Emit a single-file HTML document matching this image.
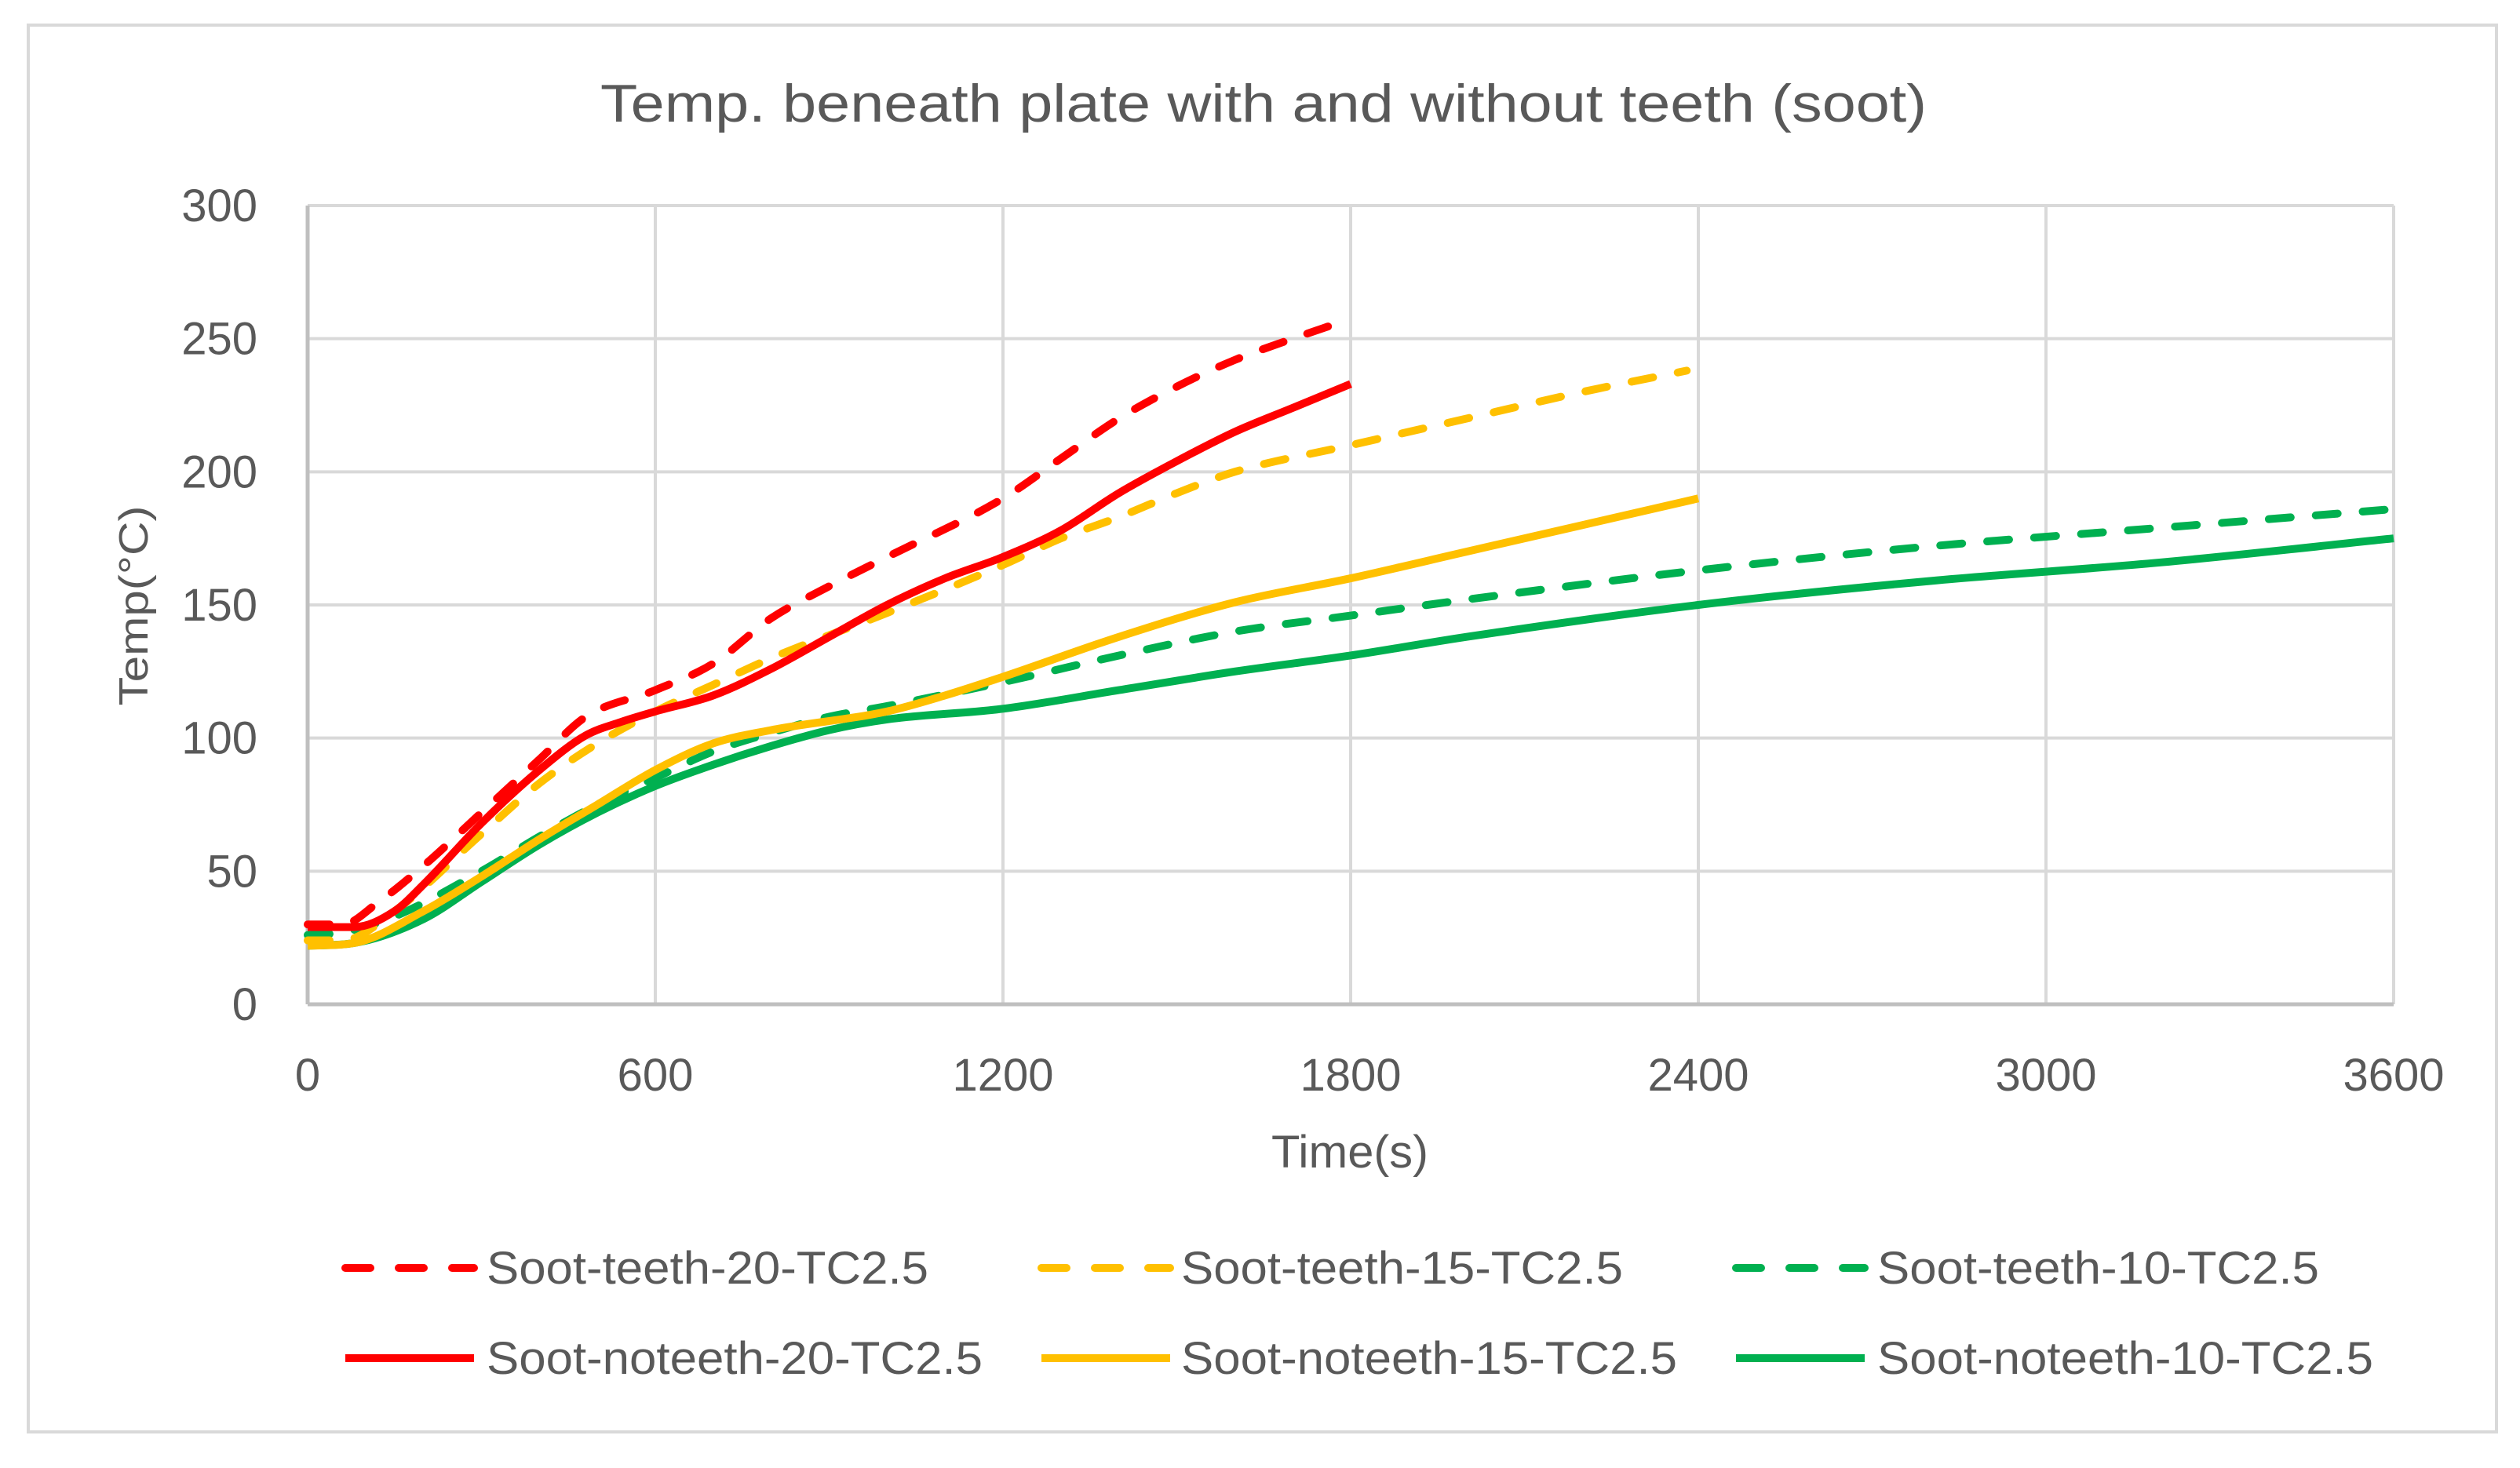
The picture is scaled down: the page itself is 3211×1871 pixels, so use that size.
<!DOCTYPE html>
<html><head><meta charset="utf-8"><style>
html,body{margin:0;padding:0;background:#fff;}
svg text{font-family:"Liberation Sans",sans-serif;fill:#595959;}
</style></head><body>
<svg id="chart" width="3211" height="1866" viewBox="0 0 3211 1866" xmlns="http://www.w3.org/2000/svg">
<rect x="0" y="0" width="3211" height="1866" fill="#fff"/>
<rect x="36" y="32" width="3145" height="1793" fill="none" stroke="#d9d9d9" stroke-width="4"/>
<text x="1610" y="155" font-size="68" text-anchor="middle" textLength="1690" lengthAdjust="spacingAndGlyphs">Temp. beneath plate with and without teeth (soot)</text>
<g id="grid"></g>
<g id="axes"></g>
<g id="series"></g>
<text x="1720" y="1488" font-size="58" text-anchor="middle" textLength="200" lengthAdjust="spacingAndGlyphs">Time(s)</text>
<text transform="translate(188,772) rotate(-90)" font-size="52" text-anchor="middle" textLength="255" lengthAdjust="spacingAndGlyphs">Temp(°C)</text>
<g id="legend"></g>
</svg>
<script>
const xTicks = [0, 600, 1200, 1800, 2400, 3000, 3600];
const yTicks = [0, 50, 100, 150, 200, 250, 300];
const seriesNames = ["Soot-teeth-20-TC2.5","Soot-teeth-15-TC2.5","Soot-teeth-10-TC2.5","Soot-noteeth-20-TC2.5","Soot-noteeth-15-TC2.5","Soot-noteeth-10-TC2.5"];
const teeth20T = [0,60,120,200,300,400,480,600,700,800,900,1000,1200,1300,1400,1500,1600,1700,1780];
const teeth20V = [30,30,38,52,72,92,108,118,128,145,157,168,190,205,220,232,242,250,256];
const noteeth20T = [0,80,150,200,300,400,480,540,600,700,800,900,1000,1100,1200,1300,1400,1500,1600,1700,1800];
const noteeth20V = [29,29,35,45,68,88,101,106,110,116,126,138,150,160,168,178,192,204,215,224,233];
const teeth15T = [0,60,150,300,400,500,600,700,800,1000,1200,1300,1400,1500,1600,1800,2000,2200,2380];
const teeth15V = [24,24,35,64,83,98,110,120,130,147,165,175,183,192,200,210,220,230,238];
const noteeth15T = [0,80,200,300,400,500,600,700,800,1000,1100,1200,1400,1600,1800,2000,2200,2400];
const noteeth15V = [22,23,35,48,62,75,88,98,103,110,116,123,138,151,160,170,180,190];
const teeth10T = [0,60,150,300,400,500,600,700,800,900,1000,1200,1400,1600,1800,2000,2400,2800,3200,3600];
const teeth10V = [26,27,33,50,63,75,85,95,102,108,112,121,131,140,146,152,163,172,179,186];
const noteeth10T = [0,80,200,300,400,500,600,700,800,900,1000,1200,1400,1600,1800,2000,2400,2800,3200,3600];
const noteeth10V = [22,23,32,46,60,72,82,90,97,103,107,111,118,125,131,138,150,159,166,175];

const NS = "http://www.w3.org/2000/svg";
const L = 392, R = 3050, T = 262, B = 1280;
const xs = v => L + (v - 0) / 3600 * (R - L);
const ys = v => B - v / 300 * (B - T);
function mk(tag, attrs, parent){const e=document.createElementNS(NS,tag);for(const k in attrs)e.setAttribute(k,attrs[k]);parent.appendChild(e);return e;}
const grid=document.getElementById('grid'), axes=document.getElementById('axes'), ser=document.getElementById('series'), leg=document.getElementById('legend');
yTicks.forEach(v=>{
  if(v>0){const g=mk('line',{x1:L,x2:R,y1:ys(v),y2:ys(v),stroke:'#d9d9d9','stroke-width':4},grid);
  
  }
  const t=mk('text',{x:328,y:ys(v)+20,'font-size':58,'text-anchor':'end'},axes);t.textContent=v;
  
  
});
xTicks.forEach(v=>{
  if(v>0){const g=mk('line',{x1:xs(v),x2:xs(v),y1:T,y2:B,stroke:'#d9d9d9','stroke-width':4},grid);
  
  }
  const t=mk('text',{x:xs(v),y:1390,'font-size':58,'text-anchor':'middle'},axes);t.textContent=v;
  
  
});
const ax1=mk('line',{x1:L,x2:R,y1:B,y2:B,stroke:'#bfbfbf','stroke-width':5},axes);


const ax2=mk('line',{x1:L,x2:L,y1:T,y2:B,stroke:'#bfbfbf','stroke-width':5},axes);



function smooth(pts){
  const n=pts.length, d=[], m=[];
  for(let i=0;i<n-1;i++)d.push((pts[i+1][1]-pts[i][1])/(pts[i+1][0]-pts[i][0]));
  m[0]=d[0];m[n-1]=d[n-2];
  for(let i=1;i<n-1;i++){m[i]=(d[i-1]*d[i]<=0)?0:(d[i-1]+d[i])/2;}
  for(let i=0;i<n-1;i++){
    if(d[i]===0){m[i]=0;m[i+1]=0;continue;}
    const a=m[i]/d[i],b=m[i+1]/d[i],s=a*a+b*b;
    if(s>9){const t=3/Math.sqrt(s);m[i]=t*a*d[i];m[i+1]=t*b*d[i];}
  }
  let p='M'+pts[0][0]+','+pts[0][1];
  for(let i=0;i<n-1;i++){
    const h=(pts[i+1][0]-pts[i][0])/3;
    p+=' C'+(pts[i][0]+h)+','+(pts[i][1]+m[i]*h)+' '+(pts[i+1][0]-h)+','+(pts[i+1][1]-m[i+1]*h)+' '+pts[i+1][0]+','+pts[i+1][1];
  }
  return p;
}
const defs=[
 [noteeth10T,noteeth10V,'#00b050',false,'series-soot-noteeth-10'],
 [teeth10T,teeth10V,'#00b050',true,'series-soot-teeth-10'],
 [noteeth15T,noteeth15V,'#ffc000',false,'series-soot-noteeth-15'],
 [teeth15T,teeth15V,'#ffc000',true,'series-soot-teeth-15'],
 [noteeth20T,noteeth20V,'#ff0000',false,'series-soot-noteeth-20'],
 [teeth20T,teeth20V,'#ff0000',true,'series-soot-teeth-20']
];
defs.forEach(([tt,vv,c,dash,name])=>{
  const pts=tt.map((t,i)=>[xs(t),ys(vv[i])]);
  const p=mk('path',{d:smooth(pts),fill:'none',stroke:c,'stroke-width':10,'stroke-linecap':dash?'round':'butt','stroke-linejoin':'round'},ser);
  if(dash)p.setAttribute('stroke-dasharray','28 32');
  
  
});
const legCols=[[440,620],[1327,1505],[2212,2392]];
const legColors=['#ff0000','#ffc000','#00b050'];
seriesNames.forEach((n,i)=>{
  const col=i%3,row=Math.floor(i/3),y=row?1731:1616,dash=row===0;
  const g=mk('g',{},leg);
  
  
  const ln=mk('line',{x1:legCols[col][0],x2:legCols[col][0]+164,y1:y,y2:y,stroke:legColors[col],'stroke-width':10,'stroke-linecap':dash?'round':'butt'},g);
  if(dash)ln.setAttribute('stroke-dasharray','32 36');
  
  
  const t=mk('text',{x:legCols[col][1],y:y+20,'font-size':58,textLength:row?632:563,lengthAdjust:'spacingAndGlyphs'},g);
  t.textContent=n;
  
  
});
</script>
</body></html>
